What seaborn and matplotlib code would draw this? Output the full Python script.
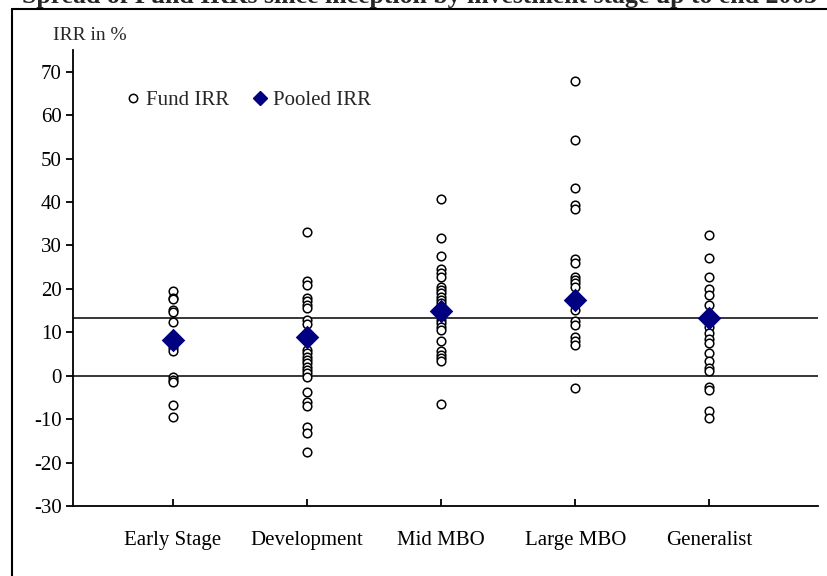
import numpy as np
import pandas as pd
import matplotlib
matplotlib.use("Agg")
import matplotlib.pyplot as plt
from matplotlib.lines import Line2D
import seaborn as sns

# data (IRR in %)
STAGES = ["Early Stage", "Development", "Mid MBO", "Large MBO", "Generalist"]

early_stage = [19.5, 18.0, 17.6, 15.2, 14.6, 12.3, 6.4, 5.8, -0.3, -0.9, -1.5, -6.8, -9.4]
development = [33.1, 21.7, 20.9, 17.9, 17.1, 16.3, 15.6, 12.9, 12.0, 6.0, 5.2, 4.4, 3.7,
               2.9, 2.1, 1.4, 0.6, -0.2, -3.8, -6.0, -7.0, -11.8, -13.2, -17.5]
mid_mbo = [40.8, 31.7, 27.6, 24.5, 23.6, 22.8, 20.5, 19.8, 19.0, 18.2, 17.5, 16.7, 12.9,
           12.1, 11.3, 10.6, 8.0, 5.6, 4.8, 4.1, 3.5, -6.5]
large_mbo = [67.9, 54.3, 43.2, 39.2, 38.4, 26.8, 26.0, 22.8, 22.1, 21.3, 20.5, 17.1, 15.2,
             12.5, 11.7, 9.0, 8.1, 7.1, -2.8]
generalist = [32.4, 27.2, 22.8, 20.0, 18.5, 16.2, 11.3, 9.8, 8.4, 7.5, 5.2, 3.3, 1.8, 1.0,
              -2.5, -3.4, -8.2, -9.7]

pooled_irr = [8.2, 9.0, 14.8, 17.5, 13.3]
overall_pooled = 13.3

TITLE = "Spread of Fund IRRs since inception by investment stage up to end 2003"

fund_df = pd.concat([
    pd.DataFrame({"stage": s, "irr": v})
    for s, v in zip(STAGES, [early_stage, development, mid_mbo, large_mbo, generalist])
], ignore_index=True)
pooled_df = pd.DataFrame({"stage": STAGES, "irr": pooled_irr})

sns.set_style("ticks")
plt.rcParams["font.family"] = ["Liberation Serif", "DejaVu Serif"]
plt.rcParams["axes.unicode_minus"] = False

W, H = 827, 576
fig = plt.figure(figsize=(W / 100, H / 100), dpi=100)
ax = fig.add_axes([73 / W, 1 - 506 / H, (818 - 73) / W, (506 - 50) / H])

ax.axhline(overall_pooled, color="black", lw=1.1, zorder=1)
ax.axhline(0, color="black", lw=1.1, zorder=1)

sns.stripplot(data=fund_df, x="stage", y="irr", order=STAGES, jitter=False,
              color="white", edgecolor="black", linewidth=1.1, size=6.2,
              ax=ax, zorder=3)
sns.stripplot(data=pooled_df, x="stage", y="irr", order=STAGES, jitter=False,
              marker="D", color="#000080", edgecolor="#000080", linewidth=0,
              size=12, ax=ax, zorder=4)

ax.set_xlim(-0.746, 4.81)
ax.set_ylim(-30, 75)
ax.set_yticks(np.arange(-30, 71, 10))
ax.set_xlabel("")
ax.set_ylabel("")
sns.despine(ax=ax)
for sp in ["left", "bottom"]:
    ax.spines[sp].set_linewidth(1.3)
    ax.spines[sp].set_color("black")
ax.tick_params(axis="y", direction="out", length=5, width=1.3, labelsize=15,
               colors="black", pad=3)
ax.tick_params(axis="x", direction="in", length=5, width=1.3, labelsize=15,
               colors="black", pad=18)

fig.text(53 / W, 1 - 36 / H, "IRR in %", fontsize=14, va="center", ha="left")

handles = [
    Line2D([], [], marker="o", ls="none", markerfacecolor="white",
           markeredgecolor="black", markeredgewidth=1.1, markersize=6),
    Line2D([], [], marker="D", ls="none", color="#000080", markersize=7),
]
ax.legend(handles, ["Fund IRR", "Pooled IRR"], ncol=2, frameon=False,
          loc="center left", bbox_to_anchor=((127 - 73) / (818 - 73), (506 - 100) / (506 - 50)),
          handlelength=0.6, handletextpad=0.3, columnspacing=1.2,
          borderpad=0, borderaxespad=0, fontsize=15)

# chart border (cut off at right/bottom) and the clipped title
fig.add_artist(Line2D([12 / W, 12 / W], [0, 1 - 9 / H], color="black", lw=1.5))
fig.add_artist(Line2D([12 / W, 1], [1 - 9 / H, 1 - 9 / H], color="black", lw=1.5))
fig.text(22 / W, 1 - 2.5 / H, TITLE, fontsize=18.5, fontweight="bold",
         ha="left", va="baseline")

fig.savefig("out.png", dpi=100)
